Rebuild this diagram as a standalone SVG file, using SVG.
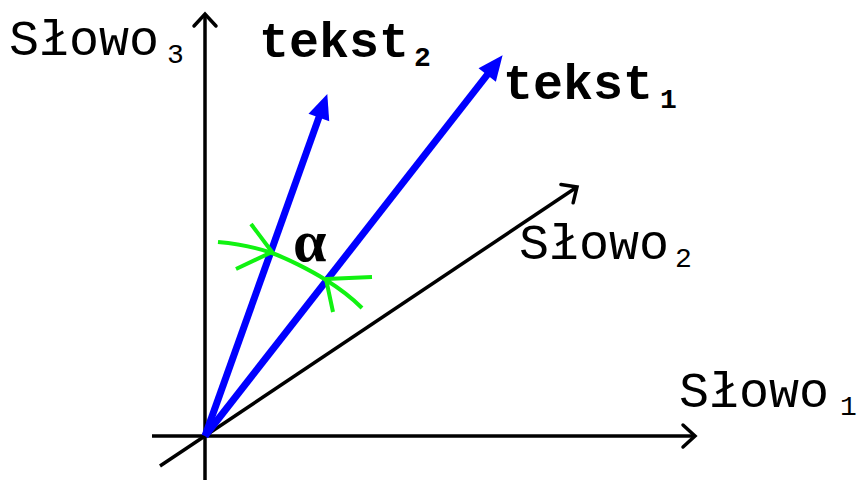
<svg xmlns="http://www.w3.org/2000/svg" width="857" height="482" viewBox="0 0 857 482">
<defs>
<style>
.ax{stroke:#000;stroke-width:3.5;fill:none}
.vec{stroke:#0000ff;stroke-width:7;fill:none}
.grn{stroke:#11f211;stroke-width:4;fill:none;stroke-linejoin:round}
.lbl{font-family:"Liberation Mono","Courier New",monospace;fill:#000}
.bold{font-weight:bold}
</style>
<marker id="chev" markerUnits="userSpaceOnUse" viewBox="-20 -20 40 40" markerWidth="40" markerHeight="40" refX="0" refY="0" orient="auto" overflow="visible">
<path d="M-12,-11 L0,0 L-12,11" stroke="#000" stroke-width="3.5" fill="none" stroke-linecap="round"/>
</marker>
<marker id="head" markerUnits="userSpaceOnUse" viewBox="-30 -20 60 40" markerWidth="60" markerHeight="40" refX="0" refY="0" orient="auto" overflow="visible">
<path d="M19,0 L-6,-11 L-6,11 Z" fill="#0000ff"/>
</marker>
</defs>
<g id="connectors">
<line id="axis1" class="ax" x1="152" y1="436" x2="695" y2="436" marker-end="url(#chev)"/>
<line id="axis3" class="ax" x1="205" y1="480" x2="205" y2="14" marker-end="url(#chev)"/>
<line id="axis2" class="ax" x1="160" y1="466" x2="577" y2="187" marker-end="url(#chev)"/>
<line id="vec1" class="vec" x1="205" y1="436" x2="490.9" y2="70.2" marker-end="url(#head)"/>
<line id="vec2" class="vec" x1="205" y1="436" x2="320.9" y2="111.9" marker-end="url(#head)"/>
</g>
<g id="angle">
<path class="grn" d="M218,242 C240,244 258,248 272,253 S310,270 326,280 S350,296 362,308"/>
<path class="grn" d="M251,224 L272,252 L236,269"/>
<path class="grn" d="M372,277 L326,279 L333,312"/>
<text x="293" y="261" font-family="'Liberation Serif','Times New Roman',serif" font-weight="bold" font-size="60">α</text>
</g>
<g id="slowo3"><text class="lbl" x="9" y="55" font-size="50">Słowo<tspan font-size="28" x="167" y="63">3</tspan></text></g>
<g id="slowo2"><text class="lbl" x="519" y="259" font-size="50">Słowo<tspan font-size="28" x="675" y="267">2</tspan></text></g>
<g id="slowo1"><text class="lbl" x="679" y="407" font-size="50">Słowo<tspan font-size="28" x="840" y="415">1</tspan></text></g>
<g id="tekst2"><text class="lbl bold" x="259" y="57" font-size="50">tekst<tspan font-size="28" x="414" y="66">2</tspan></text></g>
<g id="tekst1"><text class="lbl bold" x="503" y="99" font-size="50">tekst<tspan font-size="28" x="660" y="108">1</tspan></text></g>
</svg>
